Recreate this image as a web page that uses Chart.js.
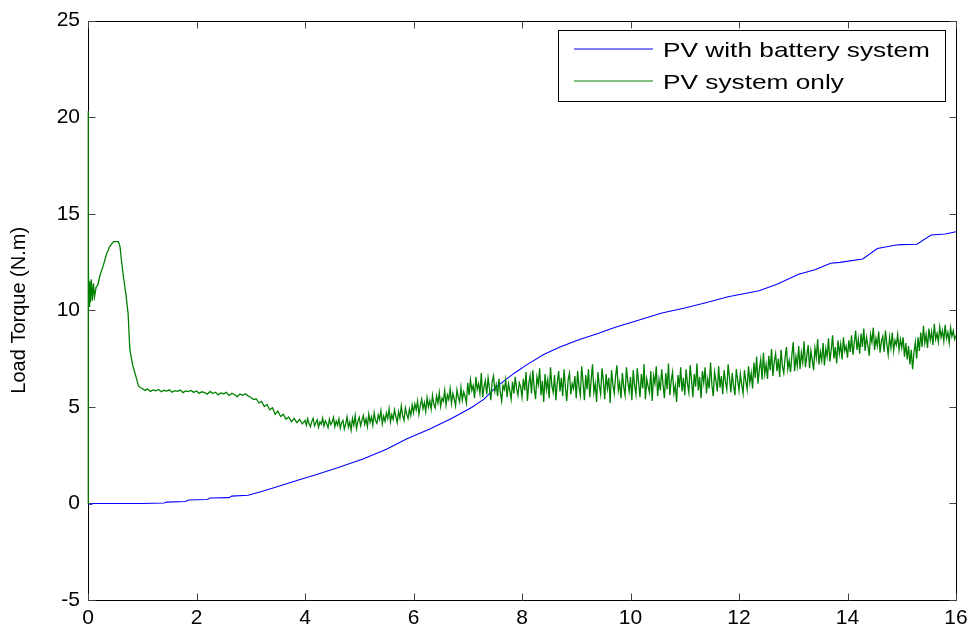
<!DOCTYPE html>
<html>
<head>
<meta charset="utf-8">
<title>Load Torque</title>
<script src="https://cdn.jsdelivr.net/npm/chart.js@4.4.1/dist/chart.umd.min.js"></script>
<style>
  html, body { margin: 0; padding: 0; background: #fff; }
  #wrap { width: 976px; height: 633px; }
</style>
</head>
<body>
<div id="wrap"><canvas id="torqueChart"></canvas></div>
<script>
// Values
const seriesLabels = ['PV with battery system', 'PV system only'];
const seriesColors = ['rgb(0,0,255)', 'rgb(0,128,0)'];
const xTicks = [0, 2, 4, 6, 8, 10, 12, 14, 16];
const yTicks = [-5, 0, 5, 10, 15, 20, 25];

// PV with battery system (blue)
const blueTime = [0, 0.05, 0.1, 0.5, 1.0, 1.4, 1.45, 1.8, 1.85, 2.2, 2.25, 2.6, 2.65, 2.95,
  3.2, 3.5, 3.85, 4.2, 4.6, 5.07, 5.5, 5.88, 6.3, 6.7, 7.07, 7.3, 7.53, 7.87, 8.1, 8.4,
  8.7, 9.06, 9.4, 9.72, 10.1, 10.58, 11.0, 11.37, 11.8, 12.37, 12.7, 13.1, 13.4, 13.69,
  13.86, 14.28, 14.55, 14.9, 15.0, 15.28, 15.54, 15.8, 16.0];
const blueLoad = [0, -0.05, 0.0, 0.0, 0.0, 0.02, 0.07, 0.1, 0.18, 0.2, 0.28, 0.3, 0.38, 0.42,
  0.62, 0.88, 1.19, 1.48, 1.85, 2.3, 2.8, 3.35, 3.85, 4.4, 4.97, 5.4, 6.05, 6.77, 7.2, 7.71,
  8.1, 8.49, 8.8, 9.12, 9.45, 9.86, 10.12, 10.38, 10.7, 11.01, 11.35, 11.87, 12.1, 12.44,
  12.48, 12.66, 13.2, 13.38, 13.4, 13.42, 13.9, 13.95, 14.07];

// PV system only (green): start-up transient, read point by point
const greenHeadTime = [0, 0, 0.005, 0.01, 0.02, 0.03, 0.045, 0.06, 0.08, 0.1, 0.12, 0.15,
  0.18, 0.22, 0.28, 0.34, 0.4, 0.47, 0.56, 0.59, 0.62, 0.65, 0.7, 0.74, 0.77, 0.82, 0.87,
  0.9, 0.93, 0.96];
const greenHeadLoad = [0, 20.3, 7.2, 12.4, 10.2, 11.5, 10.4, 11.6, 10.5, 11.4, 10.7, 11.2,
  11.3, 11.8, 12.3, 12.9, 13.3, 13.56, 13.56, 13.3, 12.5, 11.8, 10.8, 9.8, 8.0, 7.2, 6.7,
  6.4, 6.1, 6.0];

// PV system only (green): plateau, read every 0.05 s from t = 1.00 to 3.95
const greenPlateauStart = 1.0;
const greenPlateauStep = 0.05;
const greenPlateauLoad = [
  5.95, 5.85, 5.92, 5.80, 5.88, 5.83, 5.90, 5.78, 5.86, 5.82, 5.88, 5.76, 5.84, 5.80, 5.87, 5.74, 5.83, 5.79, 5.85, 5.75,
  5.82, 5.70, 5.78, 5.74, 5.66, 5.80, 5.69, 5.76, 5.62, 5.72, 5.68, 5.75, 5.58, 5.70, 5.64, 5.52, 5.66, 5.60, 5.68, 5.57,
  5.50, 5.38, 5.42, 5.20, 5.28, 5.02, 5.12, 4.85, 4.95, 4.62, 4.78, 4.50, 4.62, 4.36, 4.48, 4.22, 4.40, 4.18, 4.35, 4.12
];

// PV system only (green): noisy part, read every 0.025 s from t = 4.00 to 16.00
const greenNoiseStart = 4.0;
const greenNoiseStep = 0.025;
const greenNoiseLoad = [
  4.30, 4.05, 4.38, 4.12, 3.98, 4.25, 4.40, 4.02, 4.18, 4.33, 3.95, 4.22, 4.10, 4.42, 4.00, 4.28, 4.15, 3.92, 4.35, 4.08,
  4.20, 4.45, 3.97, 4.26, 4.05, 4.38, 3.90, 4.18, 4.30, 3.85, 4.12, 4.48, 3.95, 4.22, 3.80, 4.40, 4.05, 4.55, 3.88, 4.25,
  4.45, 4.02, 4.30, 4.55, 4.10, 4.38, 3.98, 4.62, 4.20, 4.48, 4.05, 4.70, 4.28, 4.15, 4.58, 4.35, 4.80, 4.12, 4.52, 4.25,
  4.68, 4.40, 4.90, 4.22, 4.60, 4.35, 4.85, 4.50, 4.18, 4.75, 4.42, 5.05, 4.55, 4.30, 4.95, 4.62, 4.40, 4.88, 4.55, 5.10,
  4.70, 5.15, 4.85, 5.30, 4.62, 5.05, 5.40, 4.90, 5.22, 4.75, 5.48, 5.00, 5.32, 4.88, 5.60, 5.12, 4.95, 5.55, 5.20, 5.75,
  5.02, 5.45, 5.30, 5.85, 5.10, 5.62, 5.38, 5.95, 5.18, 5.70, 5.42, 5.05, 5.88, 5.50, 5.25, 6.00, 5.35, 5.78, 5.55, 5.20,
  6.25, 5.60, 6.40, 5.85, 6.10, 5.45, 6.55, 5.90, 6.20, 5.70, 6.75, 5.50, 6.05, 6.35, 5.65, 6.50, 5.95, 5.35, 6.30, 6.60,
  5.80, 6.15, 5.55, 6.45, 5.75, 5.30, 6.10, 5.90, 6.40, 5.50, 6.20, 5.85, 5.40, 6.30, 5.70, 6.55, 5.95, 5.60, 6.25, 6.05,
  5.50, 6.45, 5.85, 6.80, 5.30, 6.20, 6.60, 5.70, 6.90, 5.95, 5.40, 6.55, 6.15, 7.00, 5.60, 6.35, 5.25, 6.70, 5.90, 6.40,
  5.45, 7.05, 6.10, 5.75, 6.65, 5.35, 6.25, 6.85, 5.80, 6.50, 5.55, 6.95, 6.00, 5.30, 6.40, 6.75, 5.65, 6.20, 5.95, 6.60,
  5.45, 6.85, 6.05, 5.60, 7.10, 6.30, 5.35, 6.65, 5.90, 6.95, 5.50, 6.40, 7.20, 5.75, 6.20, 5.25, 6.80, 6.10, 5.65, 7.00,
  6.35, 5.40, 6.70, 5.95, 6.50, 5.20, 6.90, 6.15, 5.70, 6.60, 7.15, 5.85, 6.25, 5.45, 6.75, 6.05, 5.60, 7.05, 6.30, 5.80,
  6.55, 5.35, 6.90, 6.10, 5.65, 7.00, 6.25, 5.50, 6.70, 5.95, 7.20, 5.40, 6.45, 6.05, 5.75, 6.85, 5.30, 6.60, 6.20, 7.10,
  5.55, 6.40, 5.85, 6.95, 6.15, 5.45, 6.75, 5.90, 7.25, 5.60, 6.35, 6.80, 5.70, 6.10, 5.25, 6.65, 6.00, 7.05, 5.80, 6.50,
  5.60, 6.95, 6.20, 5.75, 7.15, 6.40, 5.50, 6.70, 6.05, 7.25, 5.85, 6.55, 5.45, 6.85, 6.25, 7.05, 5.70, 6.45, 5.95, 7.30,
  6.15, 5.55, 6.80, 6.35, 5.80, 7.10, 6.00, 6.60, 5.65, 6.90, 6.30, 5.90, 7.20, 6.50, 5.75, 6.75, 6.10, 5.60, 6.95, 6.40,
  5.85, 6.70, 6.15, 5.70, 6.90, 6.35, 5.90, 7.10, 6.25, 6.75, 5.95, 7.30, 6.50, 7.60, 6.20, 6.95, 7.45, 6.40, 7.80, 6.70,
  7.20, 6.45, 7.65, 6.90, 8.00, 6.60, 7.35, 7.75, 6.85, 7.50, 6.55, 7.95, 7.10, 6.75, 7.55, 8.10, 6.95, 7.40, 6.80, 7.70,
  8.35, 6.85, 7.60, 7.10, 8.15, 6.95, 7.80, 7.30, 8.40, 7.05, 7.65, 8.20, 7.00, 7.90, 7.45, 6.90, 8.05, 7.55, 8.50, 7.20,
  7.85, 7.40, 8.30, 7.15, 8.00, 7.60, 8.55, 7.35, 7.95, 8.70, 7.50, 8.10, 7.25, 8.45, 7.75, 8.25, 7.45, 8.60, 7.90, 8.15,
  7.55, 8.45, 7.85, 8.70, 7.70, 8.30, 8.95, 7.95, 8.50, 7.75, 8.80, 8.10, 9.05, 7.90, 8.60, 8.20, 7.65, 8.75, 8.35, 9.10,
  7.95, 8.55, 8.15, 8.90, 7.80, 8.40, 8.65, 7.85, 8.95, 8.25, 7.70, 8.60, 8.05, 8.85, 7.90, 8.45, 8.20, 8.75, 7.95, 8.50,
  8.05, 8.60, 7.60, 8.30, 7.45, 8.15, 7.20, 7.95, 6.95, 7.80, 8.35, 7.50, 8.60, 7.90, 8.85, 8.10, 9.20, 8.30, 8.75, 8.05,
  9.05, 8.45, 8.90, 8.20, 9.30, 8.50, 8.80, 8.35, 9.15, 8.60, 8.95, 8.40, 9.25, 8.55, 8.85, 8.30, 9.10, 8.65, 8.95, 8.50,
  8.70
];

const sampled = (start, step, values) =>
  values.map((v, i) => ({ x: +(start + i * step).toFixed(3), y: v }));

const bluePoints = blueTime.map((t, i) => ({ x: t, y: blueLoad[i] }));
const greenPoints = greenHeadTime.map((t, i) => ({ x: t, y: greenHeadLoad[i] }))
  .concat(sampled(greenPlateauStart, greenPlateauStep, greenPlateauLoad))
  .concat(sampled(greenNoiseStart, greenNoiseStep, greenNoiseLoad));

// MATLAB-style box with inward ticks on all four sides
const axesBox = {
  id: 'axesBox',
  beforeDatasetsDraw(chart) {
    const { ctx, chartArea: a, scales } = chart;
    const L = Math.round(a.left) + 0.5, R = Math.round(a.right) + 0.5;
    const T = Math.round(a.top) + 0.5, B = Math.round(a.bottom) + 0.5;
    const len = 7;
    ctx.save();
    ctx.lineWidth = 1;
    ctx.strokeStyle = '#000';
    ctx.beginPath();
    ctx.rect(L, T, R - L, B - T);
    ctx.stroke();
    ctx.strokeStyle = '#444';
    ctx.beginPath();
    scales.x.ticks.forEach(tk => {
      const px = Math.round(scales.x.getPixelForValue(tk.value)) + 0.5;
      ctx.moveTo(px, B); ctx.lineTo(px, B - len);
      ctx.moveTo(px, T); ctx.lineTo(px, T + len);
    });
    scales.y.ticks.forEach(tk => {
      const py = Math.round(scales.y.getPixelForValue(tk.value)) + 0.5;
      ctx.moveTo(L, py); ctx.lineTo(L + len, py);
      ctx.moveTo(R, py); ctx.lineTo(R - len, py);
    });
    ctx.stroke();
    ctx.restore();
  }
};

// Legend box in the upper right, as in the figure
const boxLegend = {
  id: 'boxLegend',
  afterDraw(chart) {
    const { ctx } = chart;
    ctx.save();
    ctx.fillStyle = '#fff';
    ctx.fillRect(558.5, 30.5, 387, 71);
    ctx.lineWidth = 1;
    ctx.strokeStyle = '#000';
    ctx.strokeRect(558.5, 30.5, 387, 71);
    for (let i = 0; i < seriesLabels.length; i++) {
      const ly = 49 + i * 32;
      ctx.beginPath();
      ctx.lineWidth = 1.2;
      ctx.strokeStyle = seriesColors[i];
      ctx.moveTo(574, ly);
      ctx.lineTo(653, ly);
      ctx.stroke();
      ctx.save();
      ctx.translate(663, ly + 8);
      ctx.scale(1.25, 1);
      ctx.fillStyle = '#000';
      ctx.font = '21px "Liberation Sans", Arial, sans-serif';
      ctx.fillText(seriesLabels[i], 0, 0);
      ctx.restore();
    }
    ctx.restore();
  }
};

const tickFont = { family: '"Liberation Sans", Arial, sans-serif', size: 21 };

new Chart(document.getElementById('torqueChart'), {
  type: 'line',
  data: {
    datasets: [
      {
        label: seriesLabels[0],
        data: bluePoints,
        borderColor: seriesColors[0],
        borderWidth: 1.1,
        pointRadius: 0,
        tension: 0,
        clip: 4,
        order: 1,
      },
      {
        label: seriesLabels[1],
        data: greenPoints,
        borderColor: seriesColors[1],
        borderWidth: 1.3,
        pointRadius: 0,
        tension: 0,
        clip: 4,
        order: 0,
      },
    ],
  },
  options: {
    responsive: true,
    maintainAspectRatio: false,
    animation: false,
    devicePixelRatio: 1,
    layout: { padding: { top: 18, right: 20, left: 0, bottom: 0 } },
    plugins: {
      legend: { display: false },
      tooltip: { enabled: false },
    },
    scales: {
      x: {
        type: 'linear',
        min: 0,
        max: 16,
        afterBuildTicks: s => { s.ticks = xTicks.map(v => ({ value: v })); },
        afterFit: s => { s.height = 33; },
        grid: { display: false, drawTicks: false },
        border: { display: false },
        ticks: { color: '#000', font: tickFont, padding: 6, maxRotation: 0 },
      },
      y: {
        type: 'linear',
        min: -5,
        max: 25,
        afterBuildTicks: s => { s.ticks = yTicks.map(v => ({ value: v })); },
        afterFit: s => { s.width = 88; },
        grid: { display: false, drawTicks: false },
        border: { display: false },
        ticks: { color: '#000', font: tickFont, padding: 8 },
        title: {
          display: true,
          text: 'Load Torque (N.m)',
          color: '#000',
          font: { family: '"Liberation Sans", Arial, sans-serif', size: 20 },
          padding: { top: 7, bottom: 0 },
        },
      },
    },
  },
  plugins: [axesBox, boxLegend],
});
</script>
</body>
</html>
